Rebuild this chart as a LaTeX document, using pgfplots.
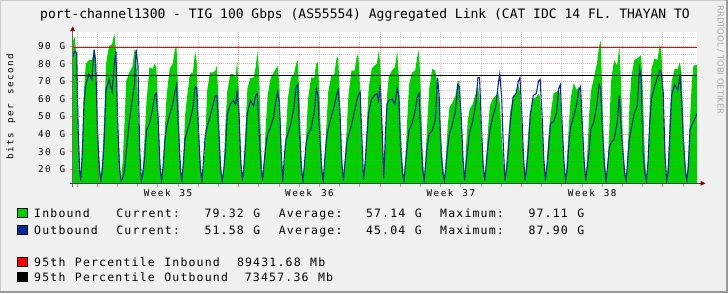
\documentclass[border=0pt]{standalone}
\usepackage{pgfplots}
\pgfplotsset{compat=1.18}
\usepackage{pgfplotstable}
\usepackage{fontspec}
\setmainfont{DejaVu Sans Mono}
\newfontfamily\titlefam{DejaVu Sans Mono}
\newfontfamily\legfam[LetterSpace=10.3,WordSpace=1.17]{DejaVu Sans Mono}
\newfontfamily\axfam[LetterSpace=16,WordSpace=1.27]{DejaVu Sans Mono}
\newfontfamily\wmfam{DejaVu Sans}
\newcommand\titlefont{\titlefam\fontsize{13bp}{15bp}\selectfont}
\newcommand\legfont{\legfam\fontsize{11.5bp}{13bp}\selectfont}
\newcommand\axfont{\axfam\fontsize{9.3bp}{11bp}\selectfont}
\newcommand\wmfont{\wmfam\fontsize{8.5bp}{10bp}\selectfont}
\definecolor{bgcol}{HTML}{F0F0F0}
\definecolor{shadea}{HTML}{CBCBCB}
\definecolor{shadeb}{HTML}{999999}
\definecolor{ingreen}{HTML}{00CF00}
\definecolor{outblue}{HTML}{002A97}
\definecolor{mgridcol}{HTML}{DE5050}
\definecolor{gridcol}{HTML}{8F8F8F}
\definecolor{axiscol}{HTML}{2C4D43}
\definecolor{arrowcol}{HTML}{7F0000}
\definecolor{wmcol}{HTML}{A8A8A8}

\pgfplotstableread{
d g b
0.00 93 84
0.10 95 87
0.20 84 86
0.27 48 42
0.34 24 20
0.40 14.5 13.5
0.48 35 30
0.56 65 58
0.65 80 68
0.80 82 74
0.95 82 71
1.06 88 88
1.14 84 80
1.23 50 40
1.32 25 20
1.40 14 13.5
1.48 28 22
1.56 50 36
1.65 80 65
1.80 90 71
1.95 91 64
2.06 97.11 80
2.14 88 87
2.23 50 45
2.32 25 20
2.40 14.5 13.5
2.48 25 15
2.56 45 19
2.65 70 30
2.80 75 47
2.95 78 60
3.06 88 68
3.14 86 88
3.23 60 79
3.32 28 30
3.40 14.5 13.5
3.48 22 18
3.56 38 26
3.65 58 42
3.80 78 46
3.95 77 54
4.06 80 62
4.14 78 63
4.23 55 48
4.32 26 22
4.40 15 13.5
4.48 24 22
4.56 42 36
4.65 62 44
4.80 77 51
4.95 80 57
5.06 88 64
5.14 90 68
5.23 60 45
5.32 28 22
5.40 14 13
5.48 26 24
5.56 50 37
5.65 60 41
5.80 74 47
5.95 75 55
6.06 87 67
6.14 81 66
6.23 47 41
6.32 25 20
6.40 14.5 13.5
6.48 22 26
6.56 35 39
6.65 64 44
6.80 75 50
6.95 75 57
7.06 76 62
7.14 79 62
7.23 54 41
7.32 26 20
7.40 14.5 13.5
7.48 22 20
7.56 45 30
7.65 64 51
7.80 74 57
7.95 74 59
8.06 72 57
8.14 82 64
8.23 62 52
8.32 28 24
8.40 15 13.5
8.48 24 22
8.56 45 35
8.65 66 52
8.80 72 59
8.95 72 56
9.06 78 62
9.14 87 63
9.23 75 40
9.32 35 22
9.40 14.5 13.5
9.48 26 24
9.56 45 33
9.65 62 40
9.80 72 44
9.95 75 50
10.06 77 59
10.14 79 64
10.23 68 58
10.32 35 30
10.40 14 13
10.48 24 28
10.56 42 37
10.65 60 40
10.80 72 46
10.95 74 55
11.06 80 67
11.14 82 68
11.23 60 40
11.32 28 20
11.40 14.5 13.5
11.48 24 24
11.56 40 35
11.65 60 40
11.80 72 43
11.95 72 52
12.06 80 66
12.14 81 62
12.23 58 38
12.32 28 20
12.40 14.5 13.5
12.48 26 26
12.56 45 37
12.65 64 43
12.80 73 50
12.95 74 56
13.06 83 62
13.14 84 65
13.23 60 52
13.32 28 24
13.40 14.5 13.5
13.48 26 24
13.56 42 34
13.65 62 39
13.80 76 45
13.95 76 53
14.06 84 59
14.14 85 62
14.23 65 64
14.32 30 36
14.40 15 14
14.48 26 24
14.56 45 38
14.65 66 52
14.80 77 60
14.95 79 62
15.06 80 63
15.14 87 59
15.23 80 68
15.32 40 42
15.40 16 15
15.48 35 40
15.56 62 57
15.65 73 59
15.80 76 60
15.95 78 57
16.06 87 66
16.14 74 62
16.23 45 33
16.32 25 18
16.40 14.5 13.5
16.48 28 24
16.56 48 33
16.65 68 42
16.80 75 46
16.95 76 53
17.06 84 61
17.14 88 63
17.23 65 40
17.32 30 20
17.40 14.5 13.5
17.48 30 24
17.56 48 34
17.65 66 40
17.80 77 42
17.95 76 48
18.06 68 72
18.14 58 62
18.23 40 30
18.32 24 18
18.40 14.5 13.5
18.48 28 22
18.56 44 32
18.65 55 40
18.80 58 46
18.95 62 53
19.06 70 68
19.14 70 67
19.23 52 50
19.32 28 26
19.40 14.5 13.5
19.48 34 24
19.56 48 32
19.65 54 41
19.80 57 47
19.95 63 57
20.06 68 72
20.14 60 72
20.23 42 45
20.32 24 22
20.40 14.5 13.5
20.48 28 24
20.56 43 33
20.65 56 42
20.80 60 50
20.95 62 56
21.06 64 68
21.14 58 74
21.23 40 62
21.32 24 32
21.40 14.5 13.5
21.48 24 20
21.56 38 30
21.65 52 45
21.80 61 61
21.95 63 63
22.06 68 70
22.14 64 72
22.23 45 52
22.32 24 26
22.40 14.5 13.5
22.48 28 22
22.56 42 32
22.65 52 51
22.80 60 62
22.95 61 63
23.06 63 70
23.14 61 71
23.23 45 52
23.32 25 26
23.40 14.5 13.5
23.48 26 22
23.56 40 32
23.65 50 46
23.80 63 47
23.95 64 52
24.06 65 66
24.14 62 68
24.23 44 45
24.32 24 24
24.40 14.5 13.5
24.48 28 20
24.56 45 34
24.65 60 44
24.80 69 50
24.95 65 57
25.06 67 65
25.14 62 67
25.23 46 45
25.32 26 24
25.40 14.5 13.5
25.48 30 22
25.56 50 30
25.65 64 43
25.80 72 47
25.95 80 57
26.06 90 68
26.14 93 66
26.23 55 40
26.32 30 22
26.40 14.5 13.5
26.48 22 22
26.56 42 32
26.65 70 35
26.80 82 37
26.95 79 46
27.06 90 62
27.14 70 45
27.23 38 30
27.32 22 18
27.40 14.5 13.5
27.48 30 26
27.56 56 37
27.65 72 43
27.80 82 52
27.95 83 56
28.06 84 77
28.14 85 72
28.23 62 30
28.32 28 18
28.40 14.5 13.5
28.48 26 24
28.56 55 45
28.65 77 60
28.80 83 67
28.95 82 72
29.06 91 76
29.14 87 75
29.23 64 64
29.32 30 28
29.40 14.5 13.5
29.48 26 18
29.56 50 40
29.65 70 62
29.80 77 68
29.95 77 65
30.06 81 73
30.14 74 60
30.23 45 36
30.32 25 20
30.40 14.5 13.5
30.48 30 22
30.56 49 43
30.65 70 45
30.73 79 47
30.81 79 49
30.90 79.32 51.58
}\datatab

\begin{document}
\begin{tikzpicture}[x=1bp,y=1bp]
\useasboundingbox (0,0) rectangle (728,293);
\fill[bgcol] (0,0) rectangle (728,293);
\draw[shadea, line width=1bp] (0.5,0) -- (0.5,292.5) -- (728,292.5);
\draw[shadeb, line width=2bp] (0,1) -- (727,1) -- (727,293);

\node[font=\titlefont, anchor=base, inner sep=0pt] at (365,274.7) {port-channel1300 - TIG 100 Gbps (AS55554) Aggregated Link (CAT IDC 14 FL. THAYAN TO};

\begin{axis}[
  scale only axis, width=624.2bp, height=151bp,
  at={(72.7bp,109.7bp)}, anchor=south west,
  xmin=0, xmax=30.9, ymin=12, ymax=97.8,
  axis line style={draw=none},
  tick style={draw=none},
  major tick length=0pt, minor tick length=0pt,
  xtick={4.72,11.72,18.72,25.72},
  xticklabels={Week 35,Week 36,Week 37,Week 38},
  ytick={20,30,40,50,60,70,80,90},
  yticklabels={20 G,30 G,40 G,50 G,60 G,70 G,80 G,90 G},
  xticklabel style={font=\axfont, anchor=center, inner sep=0pt, yshift=-9.7bp},
  yticklabel style={font=\axfont, anchor=east, inner sep=0pt, xshift=-7.2bp},
  axis background/.style={fill=white},
]
\addplot[draw=none, fill=ingreen] table[x=d,y=g]{\datatab} \closedcycle;
\addplot[outblue, line width=1.1bp] table[x=d,y=b]{\datatab};
\addplot[red, line width=1bp] coordinates {(0,89.43168) (30.9,89.43168)};
\addplot[black, line width=1bp] coordinates {(0,73.45736) (30.9,73.45736)};
\pgfplotsinvokeforeach{15,25,35,45,55,65,75,85,95}{
  \draw[gridcol, opacity=0.4, line width=1bp, dash pattern=on 1bp off 1bp] (axis cs:0,#1) -- (axis cs:30.9,#1);}
\pgfplotsinvokeforeach{20,30,40,50,60,70,80,90}{
  \draw[mgridcol, opacity=0.5, line width=1bp, dash pattern=on 1bp off 1bp] (axis cs:0,#1) -- (axis cs:30.9,#1);}
\pgfplotsinvokeforeach{0.22,2.22,3.22,4.22,5.22,6.22,7.22,9.22,10.22,11.22,12.22,13.22,14.22,16.22,17.22,18.22,19.22,20.22,21.22,23.22,24.22,25.22,26.22,27.22,28.22,30.22}{
  \draw[gridcol, opacity=0.4, line width=1bp, dash pattern=on 1bp off 1bp] (axis cs:#1,12) -- (axis cs:#1,97.8);}
\pgfplotsinvokeforeach{1.22,8.22,15.22,22.22,29.22}{
  \draw[mgridcol, opacity=0.5, line width=1bp, dash pattern=on 1bp off 1bp] (axis cs:#1,12) -- (axis cs:#1,97.8);}
\end{axis}

% axis lines and ticks
\foreach \d in {0.22,2.22,3.22,4.22,5.22,6.22,7.22,9.22,10.22,11.22,12.22,13.22,14.22,16.22,17.22,18.22,19.22,20.22,21.22,23.22,24.22,25.22,26.22,27.22,28.22,30.22}
  \draw[gridcol, opacity=0.7, line width=1bp] ({72.7+20.2*\d},109.7) -- ++(0,-3.5);
\foreach \d in {1.22,8.22,15.22,22.22,29.22}
  \draw[mgridcol, opacity=0.8, line width=1bp] ({72.7+20.2*\d},109.7) -- ++(0,-3.5);
\foreach \yy in {123.78,141.38,158.98,176.58,194.18,211.78,229.38,246.98}
  \draw[mgridcol, opacity=0.6, line width=1bp] (70.2,\yy) -- (72.7,\yy);
\draw[gray!85!black, line width=1bp] (72.7,106) -- (72.7,262);
\draw[axiscol, line width=1bp] (69.7,109.7) -- (700.5,109.7);
\fill[arrowcol] (70.2,262) -- (75.2,262) -- (72.7,266.5) -- cycle;
\fill[arrowcol] (700.5,107.2) -- (700.5,112.2) -- (705.5,109.7) -- cycle;

\node[font=\axfont, rotate=90, anchor=center, inner sep=0pt] at (10.8,186.5) {bits per second};
\node[font=\wmfont, text=wmcol, rotate=-90, anchor=base west, inner sep=0pt] at (717.5,288) {RRDTOOL / TOBI OETIKER};

% legend
\filldraw[fill=ingreen, draw=black, line width=0.8bp] (17.2,75.3) rectangle (26.9,84.7);
\filldraw[fill=outblue, draw=black, line width=0.8bp] (17.2,59) rectangle (26.9,68);
\filldraw[fill=red, draw=black, line width=0.8bp] (17.2,27) rectangle (26.9,36);
\filldraw[fill=black, draw=black, line width=0.8bp] (17.2,11.3) rectangle (26.9,20.3);
\begin{scope}[every node/.style={font=\legfont, anchor=base west, inner sep=0pt}]
\node at (34,75.3) {Inbound};
\node at (116.1,75.3) {Current:};
\node at (204.3,75.3) {79.32 G};
\node at (278.6,75.3) {Average:};
\node at (365.8,75.3) {57.14 G};
\node at (440,75.3) {Maximum:};
\node at (528.3,75.3) {97.11 G};
\node at (34,59) {Outbound};
\node at (116.1,59) {Current:};
\node at (204.3,59) {51.58 G};
\node at (278.6,59) {Average:};
\node at (365.8,59) {45.04 G};
\node at (440,59) {Maximum:};
\node at (528.3,59) {87.90 G};
\node at (34,27) {95th Percentile Inbound};
\node at (236.8,27) {89431.68 Mb};
\node at (34,11.3) {95th Percentile Outbound};
\node at (244.7,11.3) {73457.36 Mb};
\end{scope}
\end{tikzpicture}
\end{document}
